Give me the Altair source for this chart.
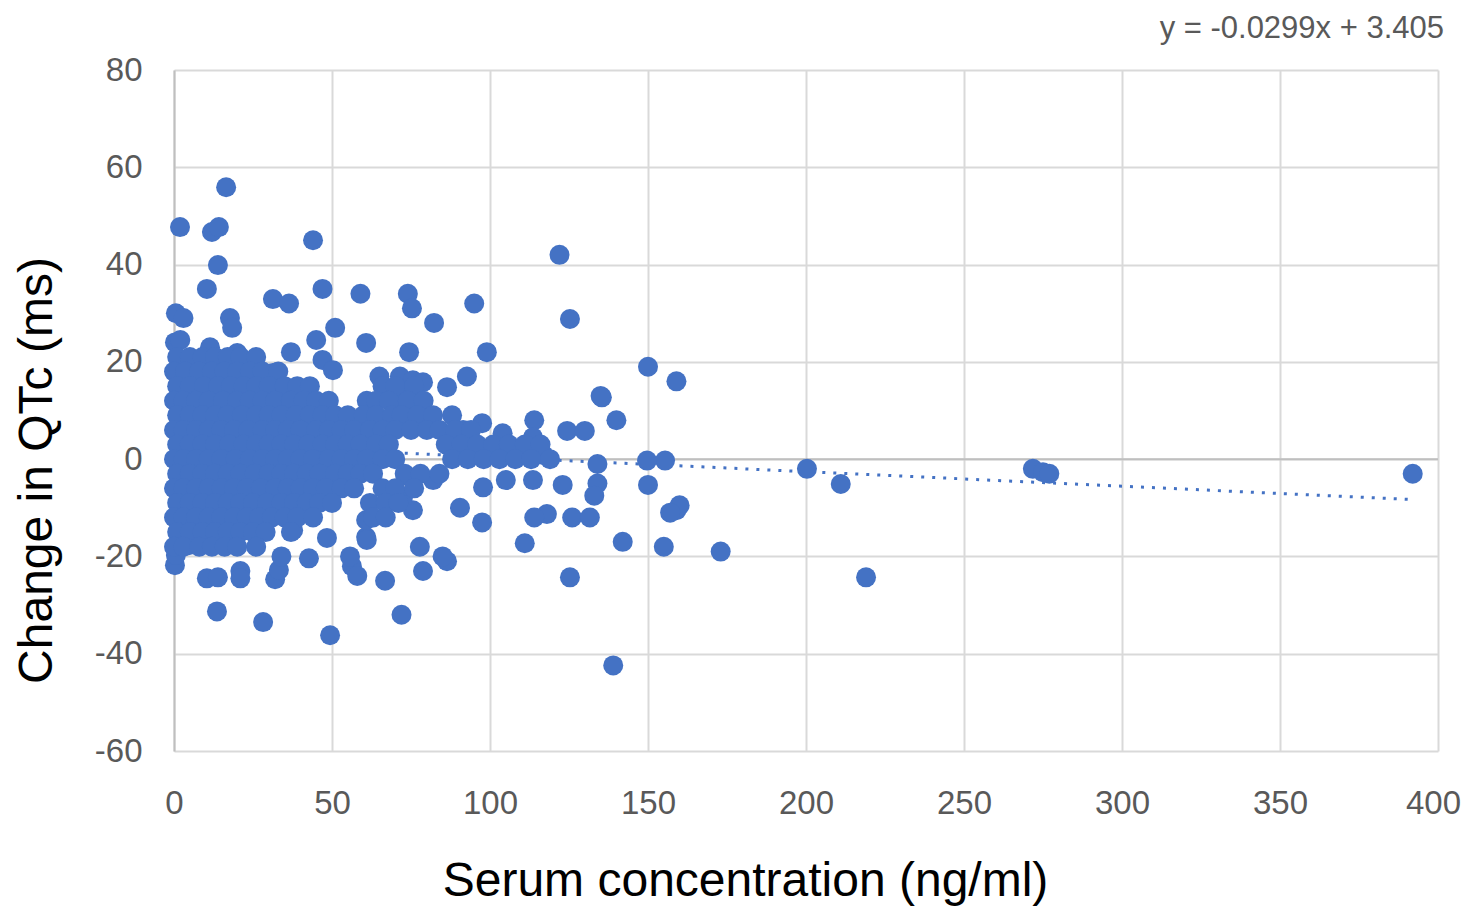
import altair as alt
import pandas as pd

# ---- scattered (outlying) observations: serum concentration (ng/ml), change in QTc (ms)
outer_x = [16.5, 1.9, 12, 14.2, 13.9, 10.4, 44, 47, 31.3, 36.4, 59, 74, 75.3, 82.3, 95, 122,
           125.3, 99, 92.7, 135, 140, 150, 159, 60.8, 51, 74.4, 17.7, 18.4, 0.6, 3, 0.3, 2,
           11.4, 37, 45, 47, 50.3, 65, 71.5, 75.6, 86.4, 78.8, 73, 72.5, 78.5, 91.5, 97.5,
           104, 114, 113.6, 124.4, 130, 135.4, 31.3, 27.2, 20]
outer_y = [55.9, 47.7, 46.7, 47.7, 39.9, 35, 45, 35, 32.9, 32, 34, 34, 31, 28, 32, 42,
           28.8, 22, 17, 13, 8, 19, 16, 23.9, 27, 22, 29, 27, 30, 29, 24, 24.5,
           23, 22, 24.5, 20.4, 18.3, 17, 17, 16.2, 14.8, 15.8, 14, 11.5, 8, 6, 7.4,
           5.3, 8, 4.5, 5.8, 5.8, 12.7, 17.7, 14, 21.8]

low_x = [200.3, 211, 219, 271.8, 275, 277, 392, 173, 155, 159, 160, 157, 155.4, 149.7, 150,
         142, 139, 125.3, 134, 134, 133, 123, 126, 131.6, 118, 114, 111, 117, 113.6, 105,
         97.8, 97.5, 90.5, 86.4, 78.8, 77.8, 72, 66.8, 49.4, 56.3, 58, 48.4, 60.8, 60.8,
         28.2, 13.6, 42.7, 32, 33.2, 34, 10.4, 13.9, 21, 21, 0.3, 0.6, 4.7, 6, 75.6, 72.5,
         82, 74.7, 85, 55.7, 37.7, 30.4, 61]
low_y = [-2, -5.1, -24.3, -2, -2.7, -3, -3, -19, -18, -10.5, -9.5, -11, -0.3, -0.3, -5.3,
         -17, -42.4, -24.3, -1, -5, -7.5, -5.3, -12, -12, -11.3, -12, -17.3, 0.8, -4.3, -4.3,
         -5.8, -13, -10, -21, -23, -18, -32, -25, -36.2, -22, -24, -16.2, -16, -12.5,
         -33.5, -31.3, -20.4, -24.7, -22.8, -20, -24.5, -24.3, -23, -24.5, -21.8, -19.7, -17.7, -15.8, -10.5, -7.8,
         -4.3, -3.7, -20, -20, -14.6, -12, -16.6]

# ---- dense cluster, read row by row (concentration values at each QTc level)
row_21 = [1, 5, 9, 13, 17, 21, 26]
row_18 = [0, 3.5, 8, 12, 16, 20, 24, 28, 33]
row_15 = [1, 5, 9.5, 14, 18, 22, 26, 30, 35, 39, 43, 66, 70, 76]
row_12 = [0, 3, 7, 11, 15.5, 20, 24, 28, 32, 37, 41, 45, 49, 61, 64, 68, 74, 79]
row_9 = [1, 5, 9, 13, 17, 21.5, 26, 30, 34, 38.5, 43, 47, 51, 55, 60, 64, 69, 72, 77, 82, 88]
row_6 = [0, 3, 7, 11, 15, 19, 23.5, 28, 32, 36, 40, 45, 49, 53, 57, 62, 66, 70, 75, 80, 84, 89, 94]
row_3 = [1, 5, 9, 13, 17.5, 22, 26, 30, 34, 38, 42.5, 47, 51, 55, 59, 64, 68, 86, 91, 96, 101, 106, 111, 116]
row_0 = [0, 3, 7, 11, 15, 19.5, 24, 28, 32, 36, 40, 44, 49, 53, 57, 61, 66, 70, 88, 93, 98, 103, 108, 113, 119]
row_m3 = [1, 5, 9, 13, 17, 21, 25.5, 30, 34, 38, 42, 46, 51, 55, 59, 63, 73, 78, 84]
row_m6 = [0, 3, 7, 11, 15, 19, 23, 27.5, 32, 36, 40, 44, 48, 53, 57, 66, 70, 76]
row_m9 = [1, 5, 9, 13, 17, 21, 25, 29.5, 34, 38, 42, 46, 50, 62, 67, 71]
row_m12 = [0, 3, 7, 11, 15, 19, 23, 27, 31, 35, 39, 44, 63, 67]
row_m15 = [1, 5, 9, 13, 17, 21, 25, 29, 37]
row_m18 = [0, 3, 8, 12, 16, 20, 26]
row_levels = [21, 18, 15, 12, 9, 6, 3, 0, -3, -6, -9, -12, -15, -18]
rows = [row_21, row_18, row_15, row_12, row_9, row_6, row_3, row_0,
        row_m3, row_m6, row_m9, row_m12, row_m15, row_m18]

# ---- linear trendline reported on the chart
slope = -0.0299
intercept = 3.405
trend_x = [0, 392]
equation = "y = -0.0299x + 3.405"

x_ticks = [0, 50, 100, 150, 200, 250, 300, 350, 400]
y_ticks = [-60, -40, -20, 0, 20, 40, 60, 80]

pts_x = outer_x + low_x
pts_y = outer_y + low_y
for lvl, r in zip(row_levels, rows):
    pts_x += r
    pts_y += [lvl] * len(r)
points = pd.DataFrame({"conc": pts_x, "dqtc": pts_y})
trend = pd.DataFrame({"conc": trend_x, "dqtc": [slope * v + intercept for v in trend_x]})

BLUE = "#4472C4"
LABEL_FONT = "Liberation Sans"
xs = alt.Scale(domain=[0, 400], nice=False, zero=False)
ys = alt.Scale(domain=[-60, 80], nice=False, zero=False)

x_axis = alt.Axis(values=x_ticks, grid=True, gridColor="#d9d9d9", gridWidth=2,
                  domain=False, ticks=False, tickSize=0, labelFont=LABEL_FONT,
                  labelFontSize=33, labelColor="#595959", labelPadding=36,
                  labelFlush=False, labelOverlap=False, labelExpr="'' + datum.value",
                  labelOffset={"condition": {"test": "datum.value == 400", "value": -5},
                               "value": 0},
                  title="Serum concentration (ng/ml)", titleFont="Liberation Sans",
                  titleFontSize=48, titleFontWeight="normal", titleColor="#000000",
                  titleX=571, titleY=106)
y_axis = alt.Axis(values=y_ticks, grid=True, gridColor="#d9d9d9", gridWidth=2,
                  domain=True, domainColor="#bfbfbf", domainWidth=2,
                  ticks=False, tickSize=0, labelFont=LABEL_FONT,
                  labelFontSize=33, labelColor="#595959", labelPadding=32,
                  labelOverlap=False, labelExpr="'' + datum.value",
                  title="Change in QTc (ms)", titleFont="Liberation Sans",
                  titleFontSize=48, titleFontWeight="normal", titleColor="#000000",
                  titleX=-113, titleY=400)

zero_rule = alt.Chart(pd.DataFrame({"dqtc": [0]})).mark_rule(
    color="#bfbfbf", strokeWidth=2).encode(y=alt.Y("dqtc:Q", scale=ys, axis=y_axis))

trend_line = alt.Chart(trend).mark_line(
    color=BLUE, strokeWidth=3, strokeDash=[3, 8]).encode(
    x=alt.X("conc:Q", scale=xs, axis=x_axis),
    y=alt.Y("dqtc:Q", scale=ys, axis=y_axis))

dots = alt.Chart(points).mark_circle(color=BLUE, opacity=1, size=400).encode(
    x=alt.X("conc:Q", scale=xs, axis=x_axis),
    y=alt.Y("dqtc:Q", scale=ys, axis=y_axis))

eq_text = alt.Chart(pd.DataFrame({"t": [equation]})).mark_text(
    align="right", baseline="middle", font=LABEL_FONT, fontSize=31,
    color="#595959").encode(text="t:N", x=alt.value(1270), y=alt.value(-41))

chart = alt.layer(zero_rule, trend_line, dots, eq_text).properties(
    width=1264, height=681,
    autosize=alt.AutoSizeParams(type="none"),
    padding={"left": 166, "top": 62, "right": 24, "bottom": 156},
).configure_view(strokeWidth=0)

chart.save("out.html", embed_options={"renderer": "svg", "actions": False})
